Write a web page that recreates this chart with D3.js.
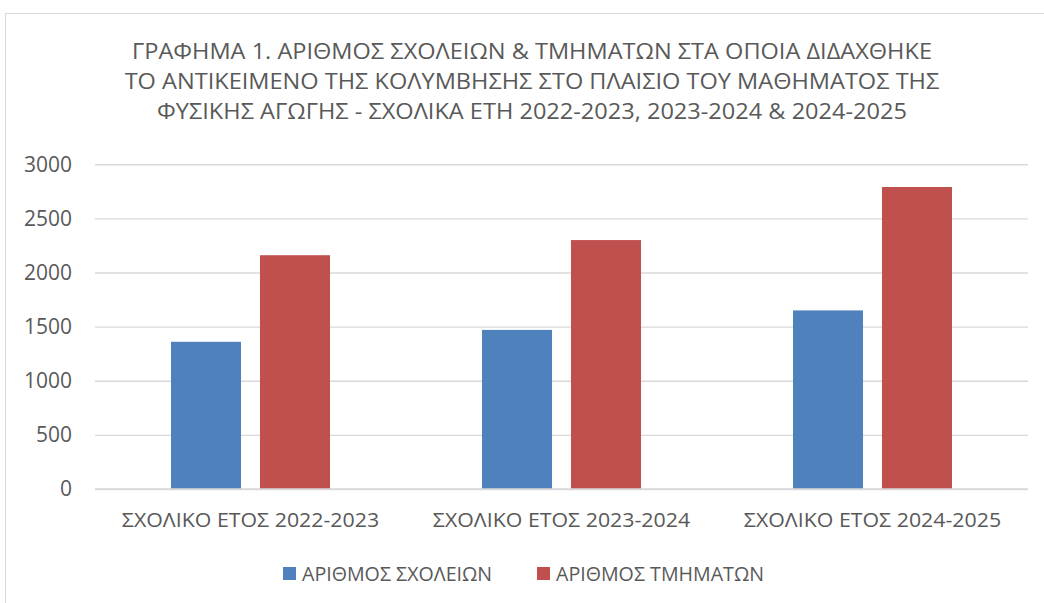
<!DOCTYPE html>
<html>
<head>
<meta charset="utf-8">
<script src="https://cdn.jsdelivr.net/npm/d3@7"></script>
<style>
  html, body { margin: 0; padding: 0; background: #fff; }
  svg { display: block; }
  text { font-family: "Open Sans", "Noto Sans", sans-serif; fill: #595959; }
</style>
</head>
<body>
<svg id="chart" width="1044" height="603"></svg>
<script>
// ---- data ----
const titleLines = [
  "ΓΡΑΦΗΜΑ 1. ΑΡΙΘΜΟΣ ΣΧΟΛΕΙΩΝ & ΤΜΗΜΑΤΩΝ ΣΤΑ ΟΠΟΙΑ ΔΙΔΑΧΘΗΚΕ",
  "ΤΟ ΑΝΤΙΚΕΙΜΕΝΟ ΤΗΣ ΚΟΛΥΜΒΗΣΗΣ ΣΤΟ ΠΛΑΙΣΙΟ ΤΟΥ ΜΑΘΗΜΑΤΟΣ ΤΗΣ",
  "ΦΥΣΙΚΗΣ ΑΓΩΓΗΣ - ΣΧΟΛΙΚΑ ΕΤΗ 2022-2023, 2023-2024 & 2024-2025"
];
const categories = ["ΣΧΟΛΙΚΟ ΕΤΟΣ 2022-2023", "ΣΧΟΛΙΚΟ ΕΤΟΣ 2023-2024", "ΣΧΟΛΙΚΟ ΕΤΟΣ 2024-2025"];
const seriesNames = ["ΑΡΙΘΜΟΣ ΣΧΟΛΕΙΩΝ", "ΑΡΙΘΜΟΣ ΤΜΗΜΑΤΩΝ"];
const schools = [1360, 1470, 1650];
const classes = [2160, 2300, 2790];
const yTicks = [0, 500, 1000, 1500, 2000, 2500, 3000];
const colors = ["#4F81BD", "#C0504D"];

const seriesValues = [schools, classes];
const rows = categories.map((c, i) => ({ cat: c, vals: seriesNames.map((s, j) => ({ s, v: seriesValues[j][i] })) }));

const svg = d3.select("#chart");

// chart border (Excel chart area)
svg.append("rect")
  .attr("x", 5.5).attr("y", 13.5)
  .attr("width", 1100).attr("height", 700)
  .attr("fill", "none").attr("stroke", "#d9d9d9").attr("stroke-width", 1);

const plot = { left: 95, right: 1028, top: 164.3, bottom: 489 };

const x0 = d3.scaleBand().domain(categories).range([plot.left, plot.right]).paddingInner(0).paddingOuter(0);
const groupPad = 76;
const x1 = d3.scaleBand().domain(seriesNames).range([groupPad, x0.bandwidth() - groupPad]).paddingInner(0.213).paddingOuter(0);
const y = d3.scaleLinear().domain([0, 3000]).range([plot.bottom, plot.top]);

// gridlines
const yAxis = d3.axisLeft(y).tickValues(yTicks).tickSize(-(plot.right - plot.left)).tickFormat(d3.format("d")).tickPadding(23);
const gy = svg.append("g").attr("transform", `translate(${plot.left},0)`).call(yAxis);
gy.select(".domain").remove();
gy.selectAll(".tick line").attr("stroke", "#d9d9d9").attr("stroke-width", 1.4);
gy.selectAll(".tick text").attr("font-size", 21).attr("fill", "#595959")
  .style("font-family", "'Open Sans', sans-serif");

// bars
const groups = svg.append("g").selectAll("g").data(rows).join("g")
  .attr("transform", d => `translate(${x0(d.cat)},0)`);
groups.selectAll("rect").data(d => d.vals).join("rect")
  .attr("x", d => x1(d.s))
  .attr("y", d => y(d.v))
  .attr("width", x1.bandwidth())
  .attr("height", d => y(0) - y(d.v))
  .attr("fill", (d, i) => colors[i]);

// baseline
svg.append("line").attr("x1", plot.left).attr("x2", plot.right)
  .attr("y1", y(0)).attr("y2", y(0)).attr("stroke", "#d9d9d9").attr("stroke-width", 1.4);

// x axis labels
const xAxis = d3.axisBottom(x0).tickSize(0).tickPadding(0);
const gx = svg.append("g").attr("transform", `translate(0,${plot.bottom})`).call(xAxis);
gx.select(".domain").remove();
gx.selectAll(".tick text").attr("font-size", 20.3).attr("y", 37.5).attr("dy", 0)
  .attr("fill", "#595959").style("font-family", "'Open Sans', sans-serif").attr("class", "condense");

// title
svg.append("g").selectAll("text").data(titleLines).join("text")
  .attr("x", 532).attr("y", (d, i) => 59 + i * 30)
  .attr("text-anchor", "middle").attr("font-size", 22.4)
  .attr("class", "condense title")
  .text(d => d);

// legend
const legendX = [283, 537];
const lg = svg.append("g").selectAll("g").data(seriesNames).join("g")
  .attr("transform", (d, i) => `translate(${legendX[i]},567)`);
lg.append("rect").attr("width", 13).attr("height", 13).attr("fill", (d, i) => colors[i]);
lg.append("text").attr("x", 19).attr("y", 13.8).attr("font-size", 20.3)
  .attr("class", "condense legend").text(d => d);

// emulate the narrower Calibri-like face of the original
const ref = svg.select("text.title").node();
const factor = 800 / ref.getComputedTextLength();
svg.selectAll("text.condense").each(function() {
  const w = this.getComputedTextLength();
  const extra = this.classList.contains("legend") ? 0.92 : 1;
  d3.select(this).attr("textLength", w * factor * extra).attr("lengthAdjust", "spacingAndGlyphs");
});
</script>
</body>
</html>
